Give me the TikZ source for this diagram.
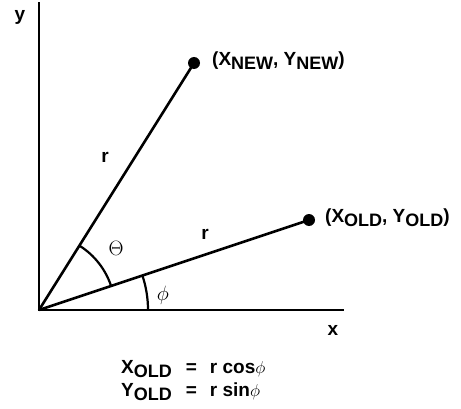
\documentclass[tikz,border=0pt]{standalone}
\usepackage{fontspec}
\setmainfont{Liberation Sans}
\usetikzlibrary{positioning}
\tikzstyle{axis} = [line width=2.8pt, line cap=rect]
\tikzstyle{ray} = [line width=2.6pt]
\tikzstyle{angle} = [line width=2.2pt]
\tikzstyle{dot} = [circle, fill=black, inner sep=0pt, minimum size=12pt]
\tikzstyle{lbl} = [font=\fontsize{19}{22}\selectfont\bfseries, inner sep=0pt]
\tikzstyle{greek} = [font=\fontsize{21}{24}\selectfont, inner sep=0pt]
\newcommand{\lowsub}[1]{\raisebox{-0.4ex}{\fontsize{18}{20}\selectfont #1}}

\begin{document}
\begin{tikzpicture}[x=1pt, y=1pt]
    \useasboundingbox (0,0) rectangle (461,408);
    \coordinate (O) at (39,98);
    \coordinate (ytop) at (39,405);
    \coordinate (xend) at (343,98);
    \node (new) [dot] at (194,345) {};
    \node (old) [dot] at (309,188) {};

    \draw [axis] (ytop) -- (O) -- (xend);
    \draw [ray] (O) -- (new.center);
    \draw [ray] (O) -- (old.center);
    \draw [angle] (O) ++(18.4:76) arc (18.4:57.9:76);
    \draw [angle] (O) ++(0:109) arc (0:18.4:109);

    \node (ylab) [lbl] at (20,391) {y};
    \node (xlab) [lbl] at (333,78) {x};
    \node (rnew) [lbl] at (105,251) {r};
    \node (rold) [lbl] at (205,174) {r};
    \node (theta) [greek] at (116,160) {$\Theta$};
    \node (phi) [greek] at (163,113) {$\phi$};
    \node (newlab) [lbl, anchor=west] at (212,347) {(X\lowsub{NEW}, Y\lowsub{NEW})};
    \node (oldlab) [lbl, anchor=west] at (325,190) {(X\lowsub{OLD}, Y\lowsub{OLD})};

    % coordinate formulas
    \node (eqs) [lbl, anchor=north west] at (121,50) {%
        \begin{tabular}{@{}l@{\hspace{14pt}}c@{\hspace{13pt}}l@{}}
        X\lowsub{OLD} & = & r cos$\phi$ \\[1pt]
        Y\lowsub{OLD} & = & r sin$\phi$
        \end{tabular}};
\end{tikzpicture}
\end{document}
